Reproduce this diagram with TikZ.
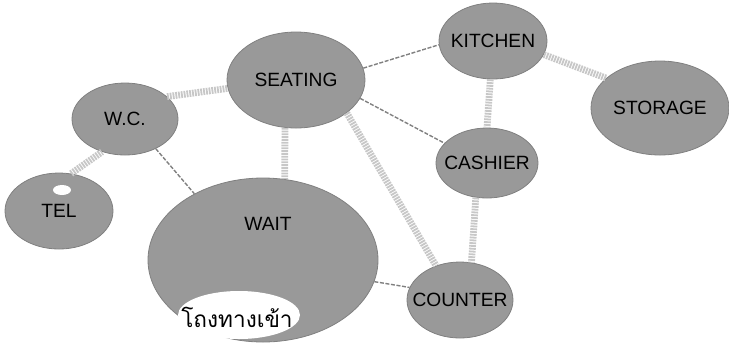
\documentclass[tikz,border=0pt]{standalone}
\usepackage{fontspec}
\setmainfont{Liberation Sans}
\newfontfamily\thaifont[Script=Thai]{Loma}
\usetikzlibrary{shapes.geometric}
\begin{document}
\begin{tikzpicture}[x=0.5pt, y=-0.5pt, every node/.style={inner sep=0pt, font=\fontsize{9.6}{11}\selectfont}, room/.style={ellipse, draw=black!50, fill=black!40}, thicklink/.style={draw=black!22, line width=3.4pt, dash pattern=on 0.9pt off 0.5pt}, thinlink/.style={draw=black!50, line width=0.7pt, dash pattern=on 2pt off 0.8pt}]
        \useasboundingbox (0,0) rectangle (729,350);
        \node[room, minimum width=69pt, minimum height=48pt, label=center:SEATING] (seat) at (296,80) {};
        \node[room, minimum width=53pt, minimum height=36pt, label=center:W.C.] (wc) at (125,119) {};
        \node[room, minimum width=54pt, minimum height=38pt, label=center:KITCHEN] (kit) at (493,41) {};
        \node[room, minimum width=69pt, minimum height=47pt, label=center:STORAGE] (stor) at (660,108) {};
        \node[room, minimum width=51pt, minimum height=35pt, label=center:CASHIER] (cash) at (487,163) {};
        \node[room, minimum width=54pt, minimum height=38pt, label=center:TEL] (tel) at (59,211) {};
        \node[room, minimum width=115pt, minimum height=82pt] (wait) at (263,260) {};
        \node[room, minimum width=53pt, minimum height=38pt, label=center:COUNTER] (count) at (460,300) {};
        \node (waitlbl) at (268,224) {WAIT};
        \fill[white] (239,315) ellipse (30.5pt and 12pt);
        \node[font=\thaifont\fontsize{11.3}{13}\selectfont] (hall) at (237,317) {โถงทางเข้า};
        \fill[white] (62,190) ellipse (4.5pt and 2.5pt);
        \draw[thicklink] (wc.28) -- (seat.187);
        \draw[thicklink] (tel.72) -- (wc.235);
        \draw[thinlink] (wc.316) -- (wait.136);
        \draw[thinlink] (seat.10) -- (kit.184);
        \draw[thinlink] (seat.344) -- (cash.155);
        \draw[thicklink] (seat.257) -- (wait.75);
        \draw[thicklink] (seat.327) -- (count.125);
        \draw[thicklink] (kit.345) -- (stor.151);
        \draw[thicklink] (kit.266) -- (cash.90);
        \draw[thicklink] (cash.252) -- (count.73);
        \draw[thinlink] (wait.349) -- (count.166);
    \end{tikzpicture}
\end{document}
